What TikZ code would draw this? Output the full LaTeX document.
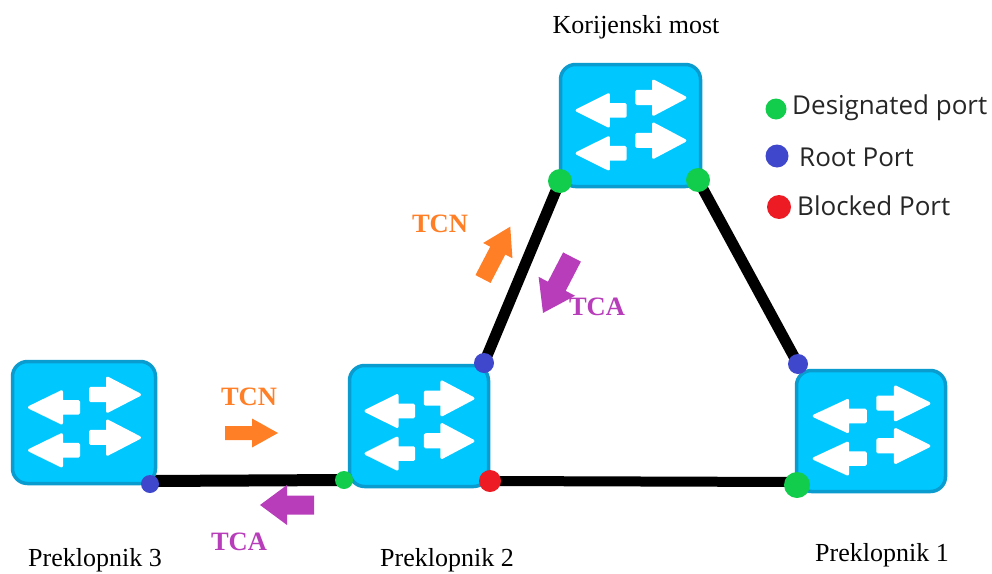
\documentclass[tikz,border=0pt]{standalone}
\usepackage{fontspec}
\setmainfont{Liberation Serif}
\newfontfamily\legendfont{Open Sans}
\usetikzlibrary{backgrounds}
\definecolor{swfill}{HTML}{00C8FF}
\definecolor{swline}{HTML}{0A9BCF}
\definecolor{desig}{HTML}{12CC4C}
\definecolor{rootp}{HTML}{3F48CC}
\definecolor{blockp}{HTML}{ED1C24}
\definecolor{tcn}{HTML}{FF7F27}
\definecolor{tca}{HTML}{B83DBA}
\definecolor{legtext}{HTML}{262626}
\tikzset{
  switchbox/.style={draw=swline,fill=swfill,line width=3.5pt,rounded corners=15pt,inner sep=0pt},
  swarrow/.style={fill=white,draw=white,line width=3pt,line join=round},
  portd/.style={circle,fill=desig,inner sep=0pt},
  portr/.style={circle,fill=rootp,inner sep=0pt},
  portb/.style={circle,fill=blockp,inner sep=0pt},
  link/.style={line width=11pt,black},
  caption/.style={font=\fontsize{26}{28}\selectfont,text=black,inner sep=0pt},
  tcntext/.style={font=\fontsize{26.5}{28}\selectfont\bfseries,text=tcn,inner sep=0pt},
  tcatext/.style={font=\fontsize{26.5}{28}\selectfont\bfseries,text=tca,inner sep=0pt},
  legendtext/.style={font=\legendfont\fontsize{26}{28}\selectfont,text=legtext,inner sep=0pt,anchor=west},
}
\newcommand{\swicon}[5]{%
  \node[switchbox,minimum width=#4pt,minimum height=#5pt] (#1) at ({#2+#4/2},{#3+#5/2}) {};
  \begin{scope}[shift={(#2,#3)},xscale=#4/143,yscale=#5/125]
    \foreach \dy in {0,44}{
      \fill[swarrow] (78,{27.5+\dy}) -- (95,{27.5+\dy}) -- (95,{17+\dy}) -- (127,{34+\dy}) -- (95,{51+\dy}) -- (95,{40+\dy}) -- (78,{40+\dy}) -- cycle;
      \fill[swarrow] (66,{41+\dy}) -- (49,{41+\dy}) -- (49,{31+\dy}) -- (17,{47+\dy}) -- (49,{63+\dy}) -- (49,{53+\dy}) -- (66,{53+\dy}) -- cycle;
    }
  \end{scope}
}
% colour, tail point, direction angle, length, head length, shaft width, head width
\newcommand{\flowarrow}[7]{%
  \begin{scope}[shift={#2},rotate=#3]
    \fill[#1] (0,{#6/2}) -- ({#4-#5},{#6/2}) -- ({#4-#5},{#7/2}) -- (#4,0) -- ({#4-#5},{-#7/2}) -- ({#4-#5},{-#6/2}) -- (0,{-#6/2}) -- cycle;
  \end{scope}
}
\begin{document}
\begin{tikzpicture}[x=1pt,y=-1pt]
\useasboundingbox (0,0) rectangle (992,573);
\swicon{root}{560.5}{64.5}{140}{122}
\swicon{sw3}{12.5}{361.5}{143}{122}
\swicon{sw2}{349.5}{365.5}{139}{121}
\swicon{sw1}{796.5}{370.5}{149}{121}
\node[portd,minimum size=24pt] (ra) at (560,181) {};
\node[portd,minimum size=24pt] (rb) at (698,180) {};
\node[portr,minimum size=20pt] (b2) at (484,363) {};
\node[portr,minimum size=20pt] (c1) at (798,364) {};
\node[portr,minimum size=18pt] (p3) at (150,484) {};
\node[portd,minimum size=18pt] (p2) at (344,480) {};
\node[portb,minimum size=22pt] (x2) at (490,481) {};
\node[portd,minimum size=26pt] (p1) at (797,485) {};
\coordinate (p3a) at (150,481);
\coordinate (p1a) at (797,482);
\begin{scope}[on background layer]
  \draw[link] (ra.center) -- (b2.center);
  \draw[link] (rb.center) -- (c1.center);
  \draw[link,line width=12pt] (p3a) -- (p2.center);
  \draw[link,line width=10pt] (x2.center) -- (p1a);
\end{scope}
\node[caption] (kor) at (636,27) {Korijenski most};
\node[caption] (pr3) at (95,560.5) {Preklopnik 3};
\node[caption] (pr2) at (447,560.5) {Preklopnik 2};
\node[caption] (pr1) at (882,555) {Preklopnik 1};
\node[tcntext] (t1) at (440,224) {TCN};
\node[tcntext] (t3) at (249,397) {TCN};
\node[tcatext] (t4) at (239,542) {TCA};
\flowarrow{tcn}{(483,279)}{62.5}{59}{27}{17}{33}
\flowarrow{tca}{(572,257)}{242.6}{63}{30}{20}{41}
\flowarrow{tcn}{(225,433)}{0}{53}{26}{14}{29}
\flowarrow{tca}{(314,505)}{180}{54}{27}{19}{40}
\node[tcatext] (t2) at (597,307) {TCA};
\node[portd,minimum size=21pt] (l1) at (776,109) {};
\node[portr,minimum size=23pt] (l2) at (777,156) {};
\node[portb,minimum size=24pt] (l3) at (779,207) {};
\node[legendtext] (d1) at (792,108) {Designated port};
\node[legendtext] (d2) at (799,157) {Root Port};
\node[legendtext] (d3) at (797,206) {Blocked Port};
\end{tikzpicture}
\end{document}
